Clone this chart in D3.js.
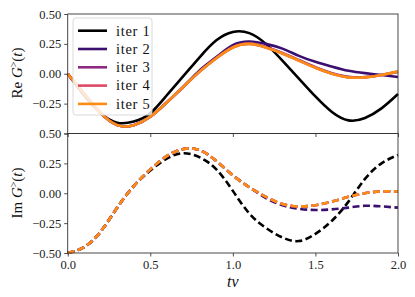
<!DOCTYPE html>
<html>
<head>
<meta charset="utf-8">
<script src="https://cdn.jsdelivr.net/npm/d3@7"></script>
<style>
  body { margin: 0; background: #fff; }
  svg text { font-family: "Liberation Serif", "Times New Roman", "DejaVu Serif", "Noto Serif", serif; }
</style>
</head>
<body>
<div id="chart"></div>
<script>
// time grid (t v)
var tGrid = [0.0, 0.1, 0.2, 0.3, 0.4, 0.5, 0.6, 0.7, 0.8, 0.9, 1.0,
             1.1, 1.2, 1.3, 1.4, 1.5, 1.6, 1.7, 1.8, 1.9, 2.0];

var iterNames = ["iter 1", "iter 2", "iter 3", "iter 4", "iter 5"];
var iterColors = ["#000000", "#3b0f70", "#8c2981", "#de4968", "#fb8c14"];

// Re G>(t) for each iteration
var re1 = [0.00, -0.18, -0.33, -0.41, -0.40, -0.33, -0.18, -0.02, 0.14, 0.28, 0.35,
           0.34, 0.25, 0.11, -0.04, -0.19, -0.32, -0.39, -0.37, -0.29, -0.17];
var re2 = [0.00, -0.17, -0.33, -0.43, -0.43, -0.36, -0.24, -0.11, 0.03, 0.14, 0.24,
           0.27, 0.25, 0.21, 0.15, 0.10, 0.06, 0.025, 0.005, -0.01, -0.027];
var re3 = [0.00, -0.17, -0.33, -0.43, -0.43, -0.36, -0.24, -0.11, 0.02, 0.135, 0.225,
           0.255, 0.225, 0.175, 0.115, 0.055, 0.005, -0.025, -0.028, -0.01, 0.015];
var re4 = [0.00, -0.17, -0.33, -0.43, -0.43, -0.36, -0.24, -0.11, 0.02, 0.13, 0.22,
           0.25, 0.22, 0.17, 0.11, 0.05, 0.00, -0.03, -0.03, -0.01, 0.018];
var re5 = [0.00, -0.17, -0.33, -0.43, -0.43, -0.36, -0.24, -0.11, 0.02, 0.13, 0.22,
           0.25, 0.22, 0.17, 0.11, 0.05, 0.00, -0.03, -0.03, -0.01, 0.02];

// Im G>(t) for each iteration
var im1 = [-0.50, -0.45, -0.32, -0.12, 0.06, 0.19, 0.29, 0.335, 0.30, 0.20, 0.02,
           -0.17, -0.29, -0.37, -0.40, -0.34, -0.23, -0.07, 0.12, 0.25, 0.32];
var im2 = [-0.50, -0.45, -0.32, -0.12, 0.06, 0.20, 0.31, 0.37, 0.36, 0.27, 0.15,
           0.05, -0.04, -0.10, -0.13, -0.14, -0.135, -0.12, -0.105, -0.11, -0.12];
var im3 = [-0.50, -0.45, -0.32, -0.12, 0.06, 0.20, 0.31, 0.37, 0.36, 0.27, 0.15,
           0.05, -0.03, -0.09, -0.11, -0.10, -0.07, -0.03, 0.00, 0.015, 0.015];
var im4 = [-0.50, -0.45, -0.32, -0.12, 0.06, 0.20, 0.31, 0.37, 0.36, 0.27, 0.15,
           0.05, -0.03, -0.09, -0.11, -0.10, -0.07, -0.03, 0.00, 0.015, 0.015];
var im5 = [-0.50, -0.45, -0.32, -0.12, 0.06, 0.20, 0.31, 0.37, 0.36, 0.27, 0.15,
           0.05, -0.03, -0.09, -0.11, -0.10, -0.07, -0.03, 0.00, 0.015, 0.015];

var reSeries = [re1, re2, re3, re4, re5];
var imSeries = [im1, im2, im3, im4, im5];

var xTicks = [0.0, 0.5, 1.0, 1.5, 2.0];
var yTicksTop = [0.5, 0.25, 0.0, -0.25, -0.5];
var yTicksBottom = [0.5, 0.25, 0.0, -0.25, -0.5];

// layout
var W = 415, H = 297;
var left = 67.7, right = 398;
var topY0 = 14, midY = 133.5, botY1 = 253;
var serif = "'Liberation Serif', 'Times New Roman', 'DejaVu Serif', serif";

var svg = d3.select("#chart").append("svg")
    .attr("width", W).attr("height", H);

var x = d3.scaleLinear().domain([0, 2]).range([left, right]);
var yTop = d3.scaleLinear().domain([-0.5, 0.5]).range([midY, topY0]);
var yBot = d3.scaleLinear().domain([-0.5, 0.5]).range([botY1, midY]);

var fmt = d3.format(".2f");

function drawPanel(y, series, dashed, showLowLabel, showXLabels) {
  var g = svg.append("g");

  var line = d3.line()
      .x(function(d, i) { return x(tGrid[i]); })
      .y(function(d) { return y(d); })
      .curve(d3.curveNatural);

  g.selectAll("path.series")
    .data(series)
    .enter().append("path")
      .attr("class", "series")
      .attr("d", line)
      .attr("fill", "none")
      .attr("stroke", function(d, i) { return iterColors[i]; })
      .attr("stroke-width", 2.6)
      .attr("stroke-dasharray", dashed ? "7,3.5" : null);

  // y axis
  var yAxis = d3.axisLeft(y).tickValues(dashed ? yTicksBottom : yTicksTop)
      .tickSize(3.5).tickPadding(3)
      .tickFormat(function(d) {
        if (!showLowLabel && d === -0.5) return "";
        return fmt(d);
      });
  var ya = svg.append("g").attr("transform", "translate(" + left + ",0)").call(yAxis);

  // x axis at bottom of panel
  var y0 = y.range()[0];
  var xAxis = d3.axisBottom(x).tickValues(xTicks)
      .tickSize(3.5).tickPadding(3.5)
      .tickFormat(function(d) { return showXLabels ? d3.format(".1f")(d) : ""; });
  var xa = svg.append("g").attr("transform", "translate(0," + y0 + ")").call(xAxis);

  [ya, xa].forEach(function(a) {
    a.attr("font-family", serif).attr("font-size", 12.5);
    a.select(".domain").remove();
    a.selectAll("line").attr("stroke", "#222").attr("stroke-width", 0.8);
    a.selectAll("text").attr("fill", "#222");
  });

  // frame
  svg.append("rect")
    .attr("x", left).attr("y", y.range()[1])
    .attr("width", right - left).attr("height", y.range()[0] - y.range()[1])
    .attr("fill", "none").attr("stroke", "#333").attr("stroke-width", 0.9);

  return g;
}

drawPanel(yTop, reSeries, false, false, false);
drawPanel(yBot, imSeries, true, true, true);

// legend in the upper panel
var leg = svg.append("g").attr("transform", "translate(73,18)");
leg.append("rect")
  .attr("width", 79).attr("height", 97)
  .attr("rx", 3).attr("ry", 3)
  .attr("fill", "#fff").attr("fill-opacity", 0.8)
  .attr("stroke", "#d6d6d6").attr("stroke-width", 0.9);

var items = leg.selectAll("g.item")
  .data(iterNames)
  .enter().append("g")
    .attr("class", "item")
    .attr("transform", function(d, i) { return "translate(0," + (12.7 + i * 18.3) + ")"; });

items.append("line")
  .attr("x1", 5).attr("x2", 34)
  .attr("stroke", function(d, i) { return iterColors[i]; })
  .attr("stroke-width", 2.6);

items.append("text")
  .attr("x", 43).attr("y", 4.8)
  .attr("font-family", serif)
  .attr("font-size", 14.5)
  .attr("letter-spacing", 0.7)
  .attr("fill", "#111")
  .text(function(d) { return d; });

// axis labels
function yLabel(cx, cy, prefix) {
  var t = svg.append("text")
    .attr("transform", "translate(" + cx + "," + cy + ") rotate(-90)")
    .attr("text-anchor", "middle")
    .attr("font-family", serif)
    .attr("font-size", 15)
    .attr("fill", "#111");
  t.append("tspan").text(prefix + " ");
  t.append("tspan").attr("font-style", "italic").text("G");
  t.append("tspan").attr("dy", -5).attr("font-size", 10).text(">");
  t.append("tspan").attr("dy", 5).text("(");
  t.append("tspan").attr("font-style", "italic").text("t");
  t.append("tspan").text(")");
}
yLabel(22, 73, "Re");
yLabel(22, 193, "Im");

svg.append("text")
  .attr("x", (left + right) / 2).attr("y", 287)
  .attr("text-anchor", "middle")
  .attr("font-family", serif)
  .attr("font-size", 16)
  .attr("font-style", "italic")
  .attr("fill", "#111")
  .text("tv");
</script>
</body>
</html>
